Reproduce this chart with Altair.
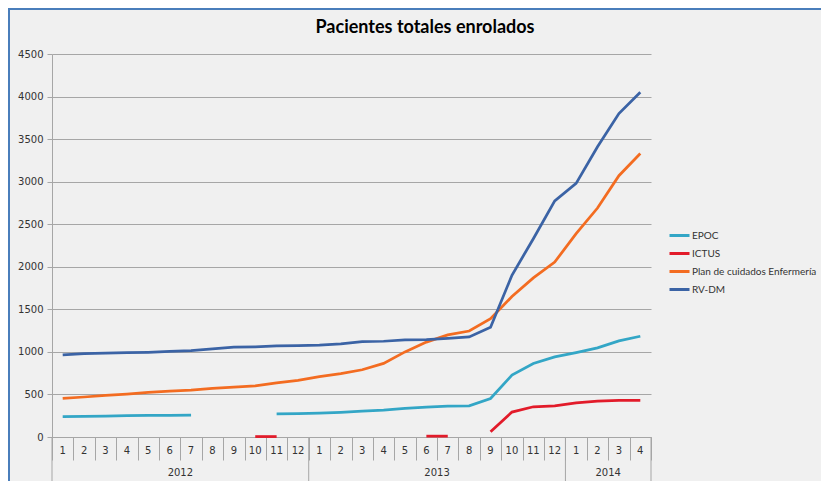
import altair as alt
import pandas as pd

# ---- data ----
series_names = ["EPOC", "ICTUS", "Plan de cuidados Enfermería", "RV-DM"]
series_colors = ["#33a6c6", "#e21b2a", "#f36c21", "#3b63a5"]

month_labels = [str(m) for m in list(range(1, 13)) + list(range(1, 13)) + [1, 2, 3, 4]]
year_labels = ["2012", "2013", "2014"]
year_centers = [6, 18, 26]
year_bounds = [0, 12, 24, 28]

epoc = [240, 243, 246, 250, 253, 255, 258, None, None, None, 272, 275,
        280, 290, 305, 316, 336, 351, 363, 367, 453, 727, 863, 941,
        992, 1047, 1129, 1184]
ictus = [None, None, None, None, None, None, None, None, None, 5, 5, None,
         None, None, None, None, None, 10, 10, None, 62, 293, 355, 367,
         402, 422, 430, 430]
plan = [455, 470, 490, 505, 525, 540, 550, 570, 585, 600, 635, 665,
        710, 745, 790, 865, 1000, 1115, 1200, 1245, 1390, 1650, 1870, 2055,
        2390, 2690, 3070, 3330]
rvdm = [965, 980, 985, 990, 995, 1005, 1015, 1035, 1055, 1060, 1070, 1075,
        1080, 1095, 1120, 1125, 1140, 1145, 1160, 1175, 1290, 1900, 2330, 2775,
        2980, 3410, 3800, 4050]

title_text = "Pacientes totales enrolados"

# ---- build tables ----
rows = []
for name, vals in zip(series_names, [epoc, ictus, plan, rvdm]):
    seg = 0
    prev_none = True
    for i, v in enumerate(vals):
        if v is None:
            prev_none = True
            continue
        if prev_none:
            seg += 1
            prev_none = False
        rows.append({"serie": name, "pos": i + 0.5, "value": v, "seg": f"{name}-{seg}"})
df = pd.DataFrame(rows)

months_df = pd.DataFrame({"pos": [i + 0.5 for i in range(len(month_labels))], "label": month_labels})
years_df = pd.DataFrame({"pos": year_centers, "label": year_labels})
bounds_df = pd.DataFrame({"pos": year_bounds})

GRID = "#a6a6a6"
TXT = "#333333"

x_enc = alt.X(
    "pos:Q",
    scale=alt.Scale(domain=[0, 28], nice=False, zero=False),
    axis=alt.Axis(values=list(range(29)), labels=False, title=None, grid=False,
                  tickSize=23, tickColor=GRID, domainColor=GRID),
)

lines = alt.Chart(df).mark_line(strokeWidth=2.75).encode(
    x=x_enc,
    y=alt.Y(
        "value:Q",
        scale=alt.Scale(domain=[0, 4500], nice=False),
        axis=alt.Axis(values=list(range(0, 4501, 500)), format="d", title=None, grid=True,
                      gridColor=GRID, tickSize=5, tickColor=GRID, domainColor=GRID,
                      labelPadding=4, labelFont="DejaVu Sans", labelFontSize=10,
                      labelColor=TXT),
    ),
    color=alt.Color(
        "serie:N",
        scale=alt.Scale(domain=series_names, range=series_colors),
        sort=series_names,
        legend=alt.Legend(orient="none", legendX=616, legendY=170, title=None,
                          symbolType="stroke", symbolSize=400, symbolStrokeWidth=3,
                          labelFont="Lato", labelFontSize=10, labelColor=TXT,
                          rowPadding=0, padding=0, labelOffset=1, labelLimit=300),
    ),
    detail="seg:N",
    order="pos:Q",
)

months = alt.Chart(months_df).mark_text(font="DejaVu Sans", fontSize=10, color=TXT,
                                        baseline="middle").encode(
    x=x_enc, y=alt.value(397), text="label:N")

years = alt.Chart(years_df).mark_text(font="DejaVu Sans", fontSize=10, color=TXT,
                                      baseline="middle").encode(
    x=x_enc, y=alt.value(419), text="label:N")

dividers = alt.Chart(bounds_df).mark_rule(color=GRID, strokeWidth=1).encode(
    x=x_enc, y=alt.value(383), y2=alt.value(428))

title = alt.Chart(pd.DataFrame({"t": [title_text]})).mark_text(
    font="Lato", fontSize=18, fontWeight="bold", color="#000000",
    baseline="middle", align="center").encode(
    x=alt.value(373), y=alt.value(-26), text="t:N")

frame_df = pd.DataFrame({"k": [0]})
frame_left = alt.Chart(frame_df).mark_rule(color="#4a7ebb", strokeWidth=2).encode(
    x=alt.value(-43), y=alt.value(-46), y2=alt.value(430))
frame_top = alt.Chart(frame_df).mark_rule(color="#4a7ebb", strokeWidth=2).encode(
    x=alt.value(-44), x2=alt.value(769), y=alt.value(-45))

chart = alt.layer(
    dividers, lines, months, years, title, frame_left, frame_top
).properties(
    width=599, height=383,
    padding={"left": 44, "top": 46, "right": 170, "bottom": 44},
    autosize=alt.AutoSizeParams(type="none"),
    background="#f0f0f0",
).configure_view(stroke=None)

chart.save("out.html", embed_options={"renderer": "svg", "actions": False})
